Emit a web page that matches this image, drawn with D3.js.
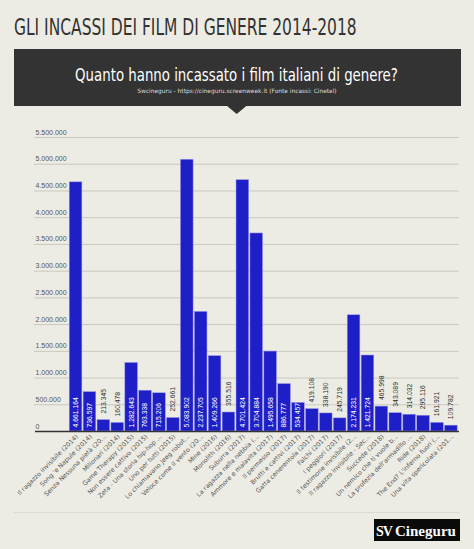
<!DOCTYPE html>
<html><head><meta charset="utf-8">
<script src="https://cdn.jsdelivr.net/npm/d3@7"></script>
<style>
html,body{margin:0;padding:0;background:#edece4;}
svg{display:block;}
</style></head>
<body>
<script>
const categories = [
  "Il ragazzo invisibile (2014)",
  "Song 'e Napule (2014)",
  "Senza Nessuna pietà (20...",
  "Milionari (2014)",
  "Game Therapy (2015)",
  "Non essere cattivo (2015)",
  "Zeta - Una storia hip-hop ...",
  "Uno per tutti (2015)",
  "Lo chiamavano Jeeg robot...",
  "Veloce come il vento (20...",
  "Mine (2016)",
  "Monolith (2016)",
  "Suburra (2017)",
  "La ragazza nella nebbia (...",
  "Ammore e malavita (2017)",
  "Il permesso (2017)",
  "Brutti e cattivi (2017)",
  "Gatta cenerentola (2017)",
  "Falchi (2017)",
  "I peggiori (2017)",
  "Il testimone invisibile (2...",
  "Il ragazzo invisibile - Sec...",
  "Succede (2018)",
  "Un nemico che ti vuole b...",
  "La profezia dell'armadillo ...",
  "Ride (2018)",
  "The End? L'inferno fuori (...",
  "Una vita spericolata (201..."
];
const incassi = [
  4661164, 736597, 213345, 160478, 1282643, 763338, 715206, 252661,
  5083902, 2237705, 1409266, 355516, 4701424, 3704884, 1495658, 886777,
  534457, 419108, 338190, 245719, 2174231, 1421724, 465998, 343089,
  314032, 295116, 161921, 109782
];
const yTicks = [0, 500000, 1000000, 1500000, 2000000, 2500000, 3000000, 3500000, 4000000, 4500000, 5000000, 5500000];
const titleText = "GLI INCASSI DEI FILM DI GENERE 2014-2018";
const subtitleText = "Quanto hanno incassato i film italiani di genere?";
const sourceText = "Swcineguru - https://cineguru.screenweek.it (Fonte incassi: Cinetel)";

const W = 474, H = 549;
const fmt = v => d3.format(",")(v).replace(/,/g, ".");
const narrow = "'DejaVu Sans Condensed','Liberation Sans Narrow',sans-serif";
const small = "'DejaVu Sans', Verdana, sans-serif";
const numFont = "'Liberation Sans', Arial, sans-serif";

const svg = d3.select("body").append("svg").attr("width", W).attr("height", H);
svg.append("rect").attr("width", W).attr("height", H).attr("fill", "#edece4");

// fit a text's font size so that its natural width equals target
function fit(sel, base, target) {
  sel.attr("font-size", base);
  const w = sel.node().getComputedTextLength();
  if (w > 0) sel.attr("font-size", base * target / w);
  return sel;
}
// squeeze a text horizontally so that it spans target width, keeping its height
function squeeze(sel, px, py, size, target) {
  sel.attr("font-size", size);
  const w = sel.node().getComputedTextLength();
  const sx = w > 0 ? target / w : 1;
  sel.attr("transform", `translate(${px},${py}) scale(${sx},1)`);
  return sel;
}

// Title
const title = svg.append("text").attr("x", 0).attr("y", 0)
  .attr("font-family", narrow).attr("fill", "#333").text(titleText);
squeeze(title, 14, 35, 23, 343);

// Banner
svg.append("rect").attr("x", 14).attr("y", 49).attr("width", 447).attr("height", 57).attr("fill", "#333333");
svg.append("path").attr("d", "M226.5,105.5 L236.7,114 L246.9,105.5 Z").attr("fill", "#333333");
const sub = svg.append("text").attr("x", 0).attr("y", 0).attr("text-anchor", "middle")
  .attr("font-family", narrow).attr("fill", "#ffffff").text(subtitleText);
squeeze(sub, 236.5, 81, 18.5, 323);
const src = svg.append("text").attr("x", 237).attr("y", 93).attr("text-anchor", "middle")
  .attr("font-family", small).attr("fill", "#dddddd").text(sourceText);
fit(src, 6, 200);

// Scales
const x = d3.scaleBand().domain(categories).range([68.6, 457.8]).paddingInner(0.09).paddingOuter(0.045);
const y = d3.scaleLinear().domain([0, 5500000]).range([431, 137]);

// Grid + y labels
const g = svg.append("g");
g.selectAll("line.grid").data(yTicks.filter(d => d > 0)).join("line")
  .attr("x1", 34).attr("x2", 459).attr("y1", d => y(d) + 0.5).attr("y2", d => y(d) + 0.5)
  .attr("stroke", "#c9c8c0").attr("stroke-width", 1);
g.selectAll("text.ytick").data(yTicks).join("text")
  .attr("x", 35.5).attr("y", d => y(d) - 2.5)
  .attr("font-family", numFont).attr("font-size", 7).attr("fill", "#555")
  .text(d => fmt(d));

// Bars
g.selectAll("rect.bar").data(incassi).join("rect")
  .attr("x", (d, i) => x(categories[i]))
  .attr("width", x.bandwidth())
  .attr("y", d => y(d))
  .attr("height", d => y(0) - y(d))
  .attr("fill", "#1f1fc8")
  .attr("stroke", "#9a9ae8").attr("stroke-width", 0.5);

// Baseline
g.append("line").attr("x1", 35).attr("x2", 459).attr("y1", 431.5).attr("y2", 431.5)
  .attr("stroke", "#333").attr("stroke-width", 1.5);

// Value labels
g.selectAll("text.val").data(incassi).join("text")
  .attr("transform", (d, i) => {
    const cx = x(categories[i]) + x.bandwidth() / 2 + 2.4;
    const yy = d > 500000 ? y(0) - 3.5 : y(d) - 6;
    return `translate(${cx},${yy}) rotate(-90)`;
  })
  .attr("font-family", numFont).attr("font-size", 6.8)
  .attr("fill", d => d > 500000 ? "#ffffff" : "#333")
  .text(d => fmt(d));

// Category labels
g.selectAll("text.cat").data(categories).join("text")
  .attr("transform", d => `translate(${x(d) + x.bandwidth() / 2 + 3},${437}) rotate(-45)`)
  .attr("text-anchor", "end")
  .attr("font-family", small).attr("font-size", 6.3).attr("fill", "#555")
  .text(d => d);

// Bottom line
svg.append("line").attr("x1", 14).attr("x2", 460).attr("y1", 512.5).attr("y2", 512.5)
  .attr("stroke", "#dcdbd3").attr("stroke-width", 1);

// Logo
const logo = svg.append("g");
logo.append("rect").attr("x", 374).attr("y", 519).attr("width", 86).attr("height", 22).attr("fill", "#0a0a0a");
logo.append("text").attr("x", 376).attr("y", 536).attr("font-family", "'Liberation Serif',serif")
  .attr("font-weight", "bold").attr("font-size", 14).attr("letter-spacing", -1).attr("fill", "#fff").text("SV");
const cg = logo.append("text").attr("x", 395).attr("y", 536).attr("font-family", "'Liberation Serif',serif")
  .attr("font-weight", "bold").attr("fill", "#fff").text("Cineguru");
fit(cg, 15, 61);
</script>
</body></html>
